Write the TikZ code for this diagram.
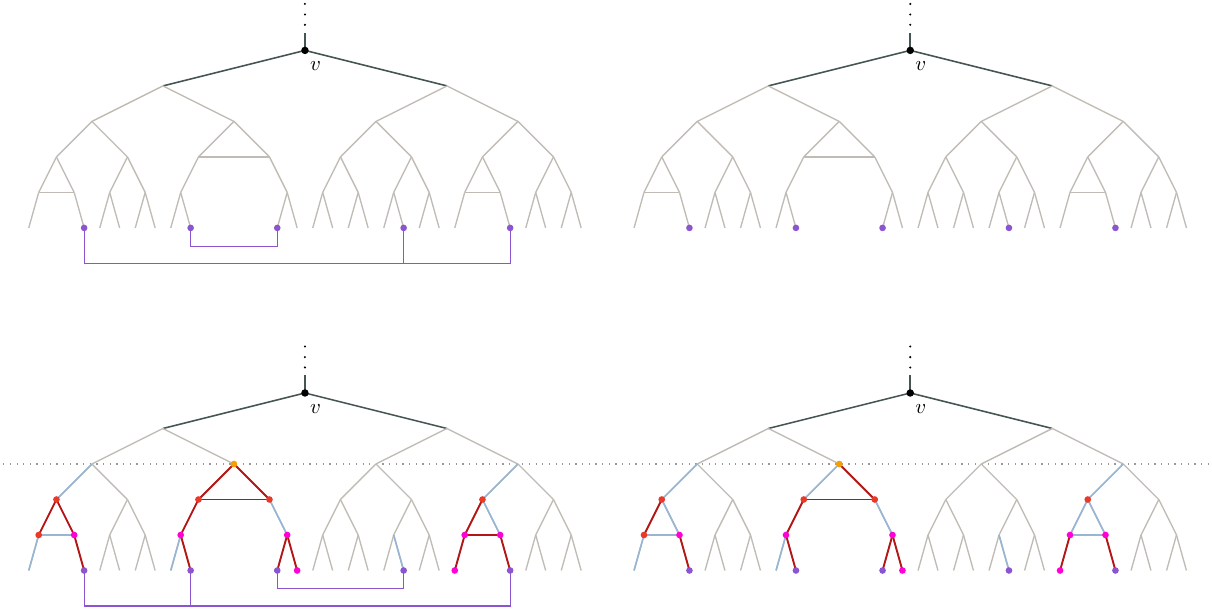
\documentclass[tikz,border=0pt]{standalone}
\usetikzlibrary{calc}
\definecolor{treegrey}{RGB}{192,188,181}
\definecolor{rootgrey}{RGB}{70,84,84}
\definecolor{pathblue}{RGB}{152,182,212}
\definecolor{pathred}{RGB}{180,22,22}
\definecolor{dotred}{RGB}{236,56,38}
\definecolor{dotpink}{RGB}{255,0,215}
\definecolor{dotpurple}{RGB}{140,84,208}
\definecolor{dotorange}{RGB}{245,160,0}

% one copy of the cubic tree below v, named #1, root at #2
\newcommand{\cubictree}[2]{%
  \node[coordinate] (#1) at (#2) {}
    child {node {}
      child {node {}
        child {node {}
          child {node {} child {node {}} child[missing]}
          child {node {} child[missing] child {node {}}}}
        child {node {}
          child {node {} child {node {}} child {node {}}}
          child {node {} child {node {}} child {node {}}}}}
      child {node {}
        child {node {}
          child {node {} child {node {}} child {node {}}}
          child[missing]}
        child {node {}
          child[missing]
          child {node {} child {node {}} child {node {}}}}}}
    child {node {}
      child {node {}
        child {node {}
          child {node {} child {node {}} child {node {}}}
          child {node {} child {node {}} child {node {}}}}
        child {node {}
          child {node {} child {node {}} child {node {}}}
          child {node {} child {node {}} child {node {}}}}}
      child {node {}
        child {node {}
          child {node {} child {node {}} child[missing]}
          child {node {} child[missing] child {node {}}}}
        child {node {}
          child {node {} child {node {}} child {node {}}}
          child {node {} child {node {}} child {node {}}}}}};
  % horizontal edges
  \draw[rung=treegrey] (#1-1-1-1-1) -- (#1-1-1-1-2);
  \draw[rung=treegrey] (#1-1-2-1) -- (#1-1-2-2);
  \draw[rung=treegrey] (#1-2-2-1-1) -- (#1-2-2-1-2);
  % stub and dots above v
  \path (#1) ++(0,0.5) coordinate (#1-up);
  \draw[rootedge] (#1) -- (#1-up);
  \foreach \d in {0.72,1.01,1.31} \fill (#1) ++(0,\d) circle (0.55pt);
  \fill (#1) circle (1.8pt);
  \path (#1) ++(0.3,-0.45) node (#1-lab) {$v$};
}

\begin{document}
\begin{tikzpicture}[x=0.6cm, y=0.6cm,
    rootedge/.style={draw=rootgrey, line width=0.75pt},
    greyedge/.style={draw=treegrey, line width=0.65pt},
    bluepath/.style={draw=pathblue, line width=0.8pt},
    redpath/.style={draw=pathred, line width=0.9pt},
    rung/.style={draw=#1, line width=0.85pt},
    bus/.style={draw=dotpurple, line width=0.6pt},
    cutline/.style={draw=gray!80, line width=0.6pt, dash pattern=on 0.6pt off 2.6pt},
    every child node/.style={coordinate},
    level distance=0.6cm,
    level 1/.style={sibling distance=4.8cm, edge from parent/.style={draw, rootedge}},
    level 2/.style={sibling distance=2.4cm, edge from parent/.style={draw, greyedge}},
    level 3/.style={sibling distance=1.2cm},
    level 4/.style={sibling distance=0.6cm},
    level 5/.style={sibling distance=0.336cm}
  ]
  \useasboundingbox (-8.59,-15.845) rectangle (25.55,1.42);
  \draw[cutline] (-8.5,-11.65) -- (25.5,-11.65);

  \cubictree{A}{0,0}
  \cubictree{B}{17.05,0}
  \cubictree{C}{0,-9.65}
  \cubictree{D}{17.05,-9.65}

  % coloured edges, bottom row
  \foreach \t in {C,D} {
    \foreach \a/\b in {1-1/1-1-1, 1-1-1-1/1-1-1-1-1, 1-2-1-1/1-2-1-1-1, 1-2-2/1-2-2-2,
        2-1-2-1/2-1-2-1-2, 2-2/2-2-1, 2-2-1/2-2-1-2}
      \draw[bluepath] (\t-\a) -- (\t-\b);
    \foreach \a/\b in {1-1-1/1-1-1-1, 1-1-1-2/1-1-1-2-2, 1-2/1-2-2, 1-2-1/1-2-1-1,
        1-2-1-1/1-2-1-1-2, 1-2-2-2/1-2-2-2-1, 1-2-2-2/1-2-2-2-2, 2-2-1-1/2-2-1-1-1,
        2-2-1-2/2-2-1-2-2}
      \draw[redpath] (\t-\a) -- (\t-\b);
    \draw[rung=pathblue] (\t-1-1-1-1) -- (\t-1-1-1-2);
    \draw[rung=pathred] (\t-1-2-1) -- (\t-1-2-2);
  }
  % where the two differ
  \foreach \t/\s/\c in {C/redpath/pathred, D/bluepath/pathblue} {
    \foreach \a/\b in {1-1-1/1-1-1-2, 1-2/1-2-1, 2-2-1/2-2-1-1}
      \draw[\s] (\t-\a) -- (\t-\b);
    \draw[rung=\c] (\t-2-2-1-1) -- (\t-2-2-1-2);
  }

  % purple links
  \path (A-1-1-1-2-2) ++(0,-1) coordinate (A-bus);
  \draw[bus] (A-1-1-1-2-2) -- (A-bus) -| (A-2-2-1-2-2);
  \draw[bus] (A-2-1-2-1-2) -- (A-2-1-2-1-2 |- A-bus);
  \path (A-1-2-1-1-2) ++(0,-0.52) coordinate (A-link);
  \draw[bus] (A-1-2-1-1-2) -- (A-link) -| (A-1-2-2-2-1);

  \path (C-1-1-1-2-2) ++(0,-1) coordinate (C-bus);
  \draw[bus] (C-1-1-1-2-2) -- (C-bus) -| (C-2-2-1-2-2);
  \draw[bus] (C-1-2-1-1-2) -- (C-1-2-1-1-2 |- C-bus);
  \path (C-1-2-2-2-1) ++(0,-0.5) coordinate (C-link);
  \draw[bus] (C-1-2-2-2-1) -- (C-link) -| (C-2-1-2-1-2);

  % dots
  \foreach \t in {A,B,C,D}
    \foreach \l in {1-1-1-2-2,1-2-1-1-2,1-2-2-2-1,2-1-2-1-2,2-2-1-2-2}
      \fill[dotpurple] (\t-\l) circle (1.6pt);
  \foreach \t in {C,D} {
    \fill[dotorange] (\t-1-2) circle (1.6pt);
    \foreach \l in {1-1-1,1-1-1-1,1-2-1,1-2-2,2-2-1}
      \fill[dotred] (\t-\l) circle (1.6pt);
    \foreach \l in {1-1-1-2,1-2-1-1,1-2-2-2,1-2-2-2-2,2-2-1-1,2-2-1-2,2-2-1-1-1}
      \fill[dotpink] (\t-\l) circle (1.6pt);
  }
\end{tikzpicture}
\end{document}
